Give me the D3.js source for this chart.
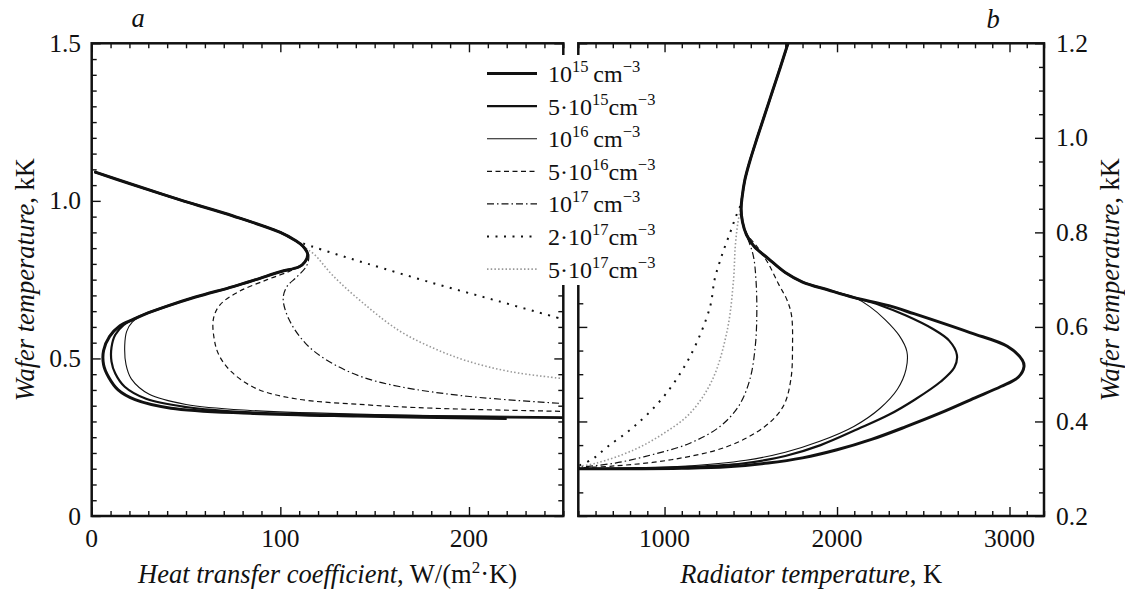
<!DOCTYPE html>
<html>
<head>
<meta charset="utf-8">
<script src="https://cdn.jsdelivr.net/npm/d3@7"></script>
<style>
  html, body { margin: 0; padding: 0; background: #fff; }
  svg { display: block; }
</style>
</head>
<body>
<svg id="chart" width="1125" height="592" font-family="'Liberation Serif', 'Times New Roman', serif"></svg>
<script>
// ---- Panel a: wafer temperature (kK) vs heat transfer coefficient, W/(m^2 K) ----
// shared upper branch of every curve
const aUpper = [[1.5,1.092],[20,1.055],[48.5,1.0],[75,0.952],[100,0.900],[108,0.874]];
// nose and its lower side shared by the solid curves
const aNose = [[112,0.856],[114.5,0.83],[113,0.806],[110,0.791],[100,0.775],[87,0.750],[75,0.728],[55,0.695],[40,0.666],[28,0.640]];
const aN1e15 = [[22,0.624],[15,0.604],[9.5,0.57],[6.3,0.525],[6.3,0.48],[9,0.44],[14,0.40],[23,0.369],[42,0.342],[84,0.326],[141,0.317],[220,0.309]];
const aN5e15 = [[22,0.624],[17,0.606],[12.5,0.575],[10.5,0.535],[10.5,0.49],[12.5,0.452],[17.5,0.41],[28.8,0.372],[50,0.346],[84,0.329],[150,0.319],[250,0.311]];
const aN1e16 = [[21.5,0.615],[18.5,0.585],[17.5,0.54],[18.2,0.48],[21,0.435],[30.5,0.386],[50,0.354],[84,0.335],[150,0.322],[250,0.315]];
const aN5e16 = [[112,0.856],[114.5,0.83],[113,0.808],[106,0.78],[93,0.75],[78,0.712],[68,0.67],[64.5,0.625],[65,0.56],[67.5,0.51],[74,0.458],[87,0.405],[108,0.372],[145,0.353],[181,0.342],[250,0.332]];
const aN1e17 = [[112,0.856],[115,0.83],[114,0.795],[109,0.76],[103.5,0.728],[101.5,0.69],[104.5,0.625],[113,0.55],[124,0.497],[142,0.444],[163,0.411],[199,0.38],[250,0.357]];
const aN2e17 = [[116,0.857],[130,0.83],[146,0.801],[181,0.739],[216,0.681],[250,0.624]];
const aN5e17 = [[112,0.856],[118,0.83],[128,0.762],[145,0.67],[163,0.588],[181,0.533],[199,0.492],[222,0.458],[250,0.436]];

// ---- Panel b: wafer temperature (kK) vs radiator temperature, K ----
const bUpper = [[1716,1.2],[1672,1.15],[1627,1.1],[1582,1.05],[1537,1.0],[1494,0.95],[1465,0.91],[1450,0.875]];
const bNose = [[1444,0.85],[1452,0.822],[1475,0.795],[1520,0.77],[1600,0.745],[1700,0.715],[1800,0.695],[1950,0.678],[2100,0.662]];
const bN1e15 = [[2300,0.645],[2446,0.628],[2771,0.588],[2987,0.559],[3074,0.530],[3084,0.516],[3052,0.494],[2950,0.474],[2800,0.450],[2600,0.418],[2400,0.389],[2200,0.362],[2000,0.340],[1800,0.323],[1600,0.312],[1364,0.304],[1100,0.301],[800,0.300],[500,0.300]];
const bN5e15 = [[2250,0.646],[2400,0.624],[2554,0.596],[2650,0.571],[2695,0.541],[2680,0.514],[2600,0.484],[2450,0.446],[2300,0.414],[2121,0.384],[1905,0.350],[1700,0.327],[1450,0.311],[1147,0.304],[800,0.301],[500,0.300]];
const bN1e16 = [[2190,0.643],[2280,0.615],[2360,0.582],[2405,0.548],[2400,0.51],[2350,0.468],[2250,0.428],[2100,0.390],[1900,0.358],[1700,0.335],[1472,0.318],[1100,0.305],[800,0.301],[500,0.300]];
const bN5e16 = [[1444,0.85],[1452,0.822],[1480,0.795],[1532,0.772],[1600,0.735],[1662,0.69],[1710,0.657],[1736,0.625],[1742,0.559],[1732,0.488],[1688,0.432],[1580,0.389],[1364,0.347],[1039,0.319],[714,0.306],[500,0.302]];
const bN1e17 = [[1444,0.85],[1452,0.822],[1480,0.79],[1515,0.75],[1530,0.70],[1535,0.63],[1526,0.559],[1494,0.488],[1429,0.432],[1320,0.389],[1147,0.354],[931,0.330],[714,0.312],[500,0.303]];
const bN2e17 = [[1442,0.86],[1410,0.83],[1381,0.80],[1345,0.765],[1316,0.733],[1290,0.70],[1262,0.64],[1147,0.537],[996,0.453],[823,0.389],[671,0.347],[580,0.32],[500,0.306]];
const bN5e17 = [[1446,0.86],[1425,0.82],[1410,0.77],[1400,0.70],[1364,0.594],[1277,0.488],[1147,0.417],[996,0.375],[823,0.340],[606,0.312],[500,0.305]];

// legend: mantissa and exponent of each concentration
const legendMant = ["", "5\u00b7", "", "5\u00b7", "", "2\u00b7", "5\u00b7"];
const legendExp = ["15", "15", "16", "16", "17", "17", "17"];

// tick values
const aXMajor = [0, 100, 200];
const aYMajor = [0, 0.5, 1.0, 1.5];
const bXMajor = [1000, 2000, 3000];
const bYMajor = [0.2, 0.4, 0.6, 0.8, 1.0, 1.2];

// line styles per concentration
const styles = [
  { w: 3.0, dash: null, color: "#111" },
  { w: 2.2, dash: null, color: "#111" },
  { w: 1.1, dash: null, color: "#111" },
  { w: 1.2, dash: "5,3.5", color: "#111" },
  { w: 1.2, dash: "7,3,1.5,3", color: "#111" },
  { w: 2.0, dash: "2,6.5", color: "#111" },
  { w: 1.6, dash: "1.5,2.2", color: "#999" }
];

const seriesA = [
  aUpper.concat(aNose, aN1e15),
  aUpper.concat(aNose, aN5e15),
  aUpper.concat(aNose, aN1e16),
  aUpper.concat(aN5e16),
  aUpper.concat(aN1e17),
  aUpper.concat(aN2e17),
  aUpper.concat(aN5e17)
];
const seriesB = [
  bUpper.concat(bNose, bN1e15),
  bUpper.concat(bNose, bN5e15),
  bUpper.concat(bNose, bN1e16),
  bUpper.concat(bN5e16),
  bUpper.concat(bN1e17),
  bUpper.concat(bN2e17),
  bUpper.concat(bN5e17)
];

const svg = d3.select("#chart");
svg.append("rect").attr("width", 1125).attr("height", 592).attr("fill", "#fff");

const plotTop = 43.3, plotBottom = 516;
const xA = d3.scaleLinear([0, 250], [91.7, 563.3]);
const yA = d3.scaleLinear([0, 1.5], [plotBottom, plotTop]);
const xB = d3.scaleLinear([500, 3200], [578.3, 1044]);
const yB = d3.scaleLinear([0.2, 1.2], [plotBottom, plotTop]);

function range(a, b, s) { return d3.range(a, b + s / 2, s).map(v => +v.toFixed(6)); }

// four-sided frame with inward ticks (longer at major values)
function frame(x, y, xMinor, yMinor, xMaj, yMaj) {
  const g = svg.append("g");
  const [x0, x1] = x.range(), [y0, y1] = y.range();
  const sides = [
    { axis: d3.axisBottom(x), minor: xMinor, major: xMaj, tr: "translate(0," + y0 + ")", attr: "y2", sign: -1 },
    { axis: d3.axisTop(x), minor: xMinor, major: xMaj, tr: "translate(0," + y1 + ")", attr: "y2", sign: 1 },
    { axis: d3.axisLeft(y), minor: yMinor, major: yMaj, tr: "translate(" + x0 + ",0)", attr: "x2", sign: 1 },
    { axis: d3.axisRight(y), minor: yMinor, major: yMaj, tr: "translate(" + x1 + ",0)", attr: "x2", sign: -1 }
  ];
  sides.forEach(s => {
    const isMaj = v => s.major.some(m => Math.abs(m - v) < 1e-6);
    const ga = g.append("g").attr("transform", s.tr)
      .call(s.axis.tickValues(s.minor).tickFormat("").tickSizeOuter(0).tickSizeInner(0));
    ga.select(".domain").remove();
    ga.selectAll(".tick line").attr("stroke", "#111").attr("stroke-width", 1.4)
      .attr(s.attr, d => s.sign * (isMaj(d) ? 9 : 5));
  });
  g.append("rect").attr("x", x0).attr("y", y1).attr("width", x1 - x0).attr("height", y0 - y1)
    .attr("fill", "none").attr("stroke", "#111").attr("stroke-width", 2.5);
  return g;
}

// clip regions
const defsEl = svg.append("defs");
defsEl.append("clipPath").attr("id", "clipA").append("rect")
  .attr("x", xA(0)).attr("y", plotTop).attr("width", xA(250) - xA(0)).attr("height", plotBottom - plotTop);
defsEl.append("clipPath").attr("id", "clipB").append("rect")
  .attr("x", xB(500)).attr("y", plotTop).attr("width", xB(3200) - xB(500)).attr("height", plotBottom - plotTop);

function drawCurves(series, x, y, clip) {
  const line = d3.line().x(d => x(d[0])).y(d => y(d[1])).curve(d3.curveCatmullRom.alpha(0.5));
  const g = svg.append("g").attr("clip-path", "url(#" + clip + ")");
  // dotted ones first so the solid lines sit on top
  [6, 5, 4, 3, 2, 1, 0].forEach(i => {
    const s = styles[i];
    g.append("path").attr("d", line(series[i])).attr("fill", "none")
      .attr("stroke", s.color).attr("stroke-width", s.w)
      .attr("stroke-dasharray", s.dash).attr("stroke-linejoin", "round");
  });
}

drawCurves(seriesA, xA, yA, "clipA");
drawCurves(seriesB, xB, yB, "clipB");

frame(xA, yA, range(0, 250, 10), range(0, 1.5, 0.05), aXMajor, aYMajor);
frame(xB, yB, range(500, 3200, 100), range(0.2, 1.2, 0.05), bXMajor, bYMajor);

// tick labels
const fs = 25.5, ft = 26.5;
const txt = (g) => g.attr("fill", "#111");
svg.append("g").call(txt).selectAll("text").data(aXMajor).join("text")
  .attr("x", d => xA(d)).attr("y", 547).attr("text-anchor", "middle").attr("font-size", fs).text(d => d);
svg.append("g").call(txt).selectAll("text").data(aYMajor).join("text")
  .attr("x", 81).attr("y", d => yA(d) + 8.5).attr("text-anchor", "end").attr("font-size", fs)
  .text(d => d === 0 ? "0" : d3.format(".1f")(d));
svg.append("g").call(txt).selectAll("text").data(bXMajor).join("text")
  .attr("x", d => xB(d)).attr("y", 547).attr("text-anchor", "middle").attr("font-size", fs).text(d => d);
svg.append("g").call(txt).selectAll("text").data(bYMajor).join("text")
  .attr("x", 1056).attr("y", d => yB(d) + 8.5).attr("text-anchor", "start").attr("font-size", fs)
  .text(d => d3.format(".1f")(d));

// axis titles
const tA = svg.append("text").attr("x", (xA(0) + xA(250)) / 2).attr("y", 583)
  .attr("text-anchor", "middle").attr("font-size", ft).attr("fill", "#111");
tA.append("tspan").attr("font-style", "italic").text("Heat transfer coefficient");
tA.append("tspan").text(", W/(m");
tA.append("tspan").attr("font-size", 17).attr("dy", -10).text("2");
tA.append("tspan").attr("dy", 10).text("\u00b7K)");

const tB = svg.append("text").attr("x", (xB(500) + xB(3200)) / 2).attr("y", 583)
  .attr("text-anchor", "middle").attr("font-size", ft).attr("fill", "#111");
tB.append("tspan").attr("font-style", "italic").text("Radiator temperature");
tB.append("tspan").text(", K");

function yTitle(cx) {
  const t = svg.append("text").attr("transform", "translate(" + cx + "," + ((plotTop + plotBottom) / 2) + ") rotate(-90)")
    .attr("text-anchor", "middle").attr("font-size", ft).attr("fill", "#111");
  t.append("tspan").attr("font-style", "italic").text("Wafer temperature");
  t.append("tspan").text(", kK");
}
yTitle(34);
yTitle(1119);

svg.append("text").attr("x", 138).attr("y", 27).attr("text-anchor", "middle")
  .attr("font-size", ft).attr("font-style", "italic").attr("fill", "#111").text("a");
svg.append("text").attr("x", 993).attr("y", 28).attr("text-anchor", "middle")
  .attr("font-size", ft).attr("font-style", "italic").attr("fill", "#111").text("b");

// legend with a white backing over the panel borders
const lg = svg.append("g");
lg.append("rect").attr("x", 470).attr("y", 55).attr("width", 215).attr("height", 230).attr("fill", "#fff");
const rowY = i => 73.5 + i * 32.6;
styles.forEach((s, i) => {
  lg.append("line").attr("x1", 487).attr("x2", 537).attr("y1", rowY(i)).attr("y2", rowY(i))
    .attr("stroke", s.color).attr("stroke-width", s.w).attr("stroke-dasharray", s.dash);
  const t = lg.append("text").attr("x", 548).attr("y", rowY(i) + 8.5).attr("font-size", 24).attr("fill", "#111");
  t.append("tspan").text(legendMant[i] + "10");
  t.append("tspan").attr("font-size", 16.5).attr("dy", -10).text(legendExp[i]);
  t.append("tspan").attr("dy", 10).text((legendMant[i] ? "" : "\u2009") + "cm");
  t.append("tspan").attr("font-size", 16.5).attr("dy", -10).text("\u22123");
});
</script>
</body>
</html>
